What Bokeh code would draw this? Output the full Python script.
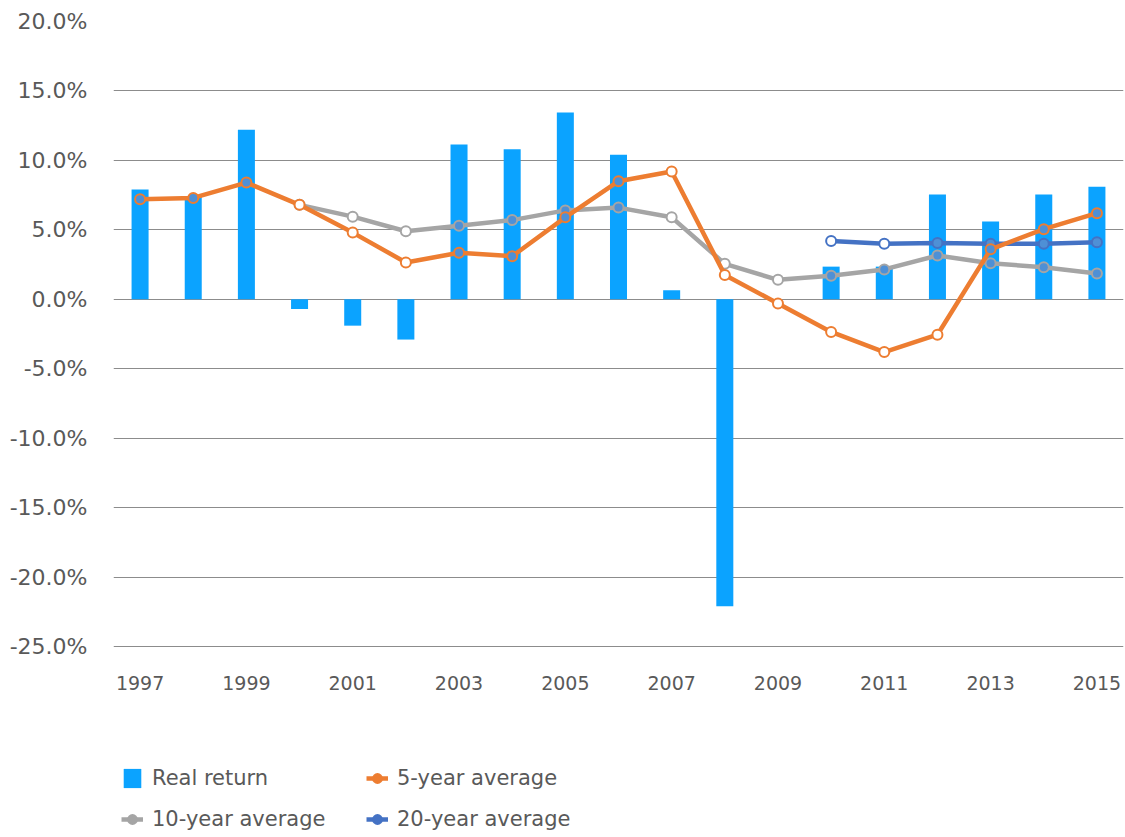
from bokeh.plotting import figure
from bokeh.models import (FixedTicker, PrintfTickFormatter, Legend, LegendItem,
                          ColumnDataSource, Range1d)
from bokeh.embed import file_html
from bokeh.resources import INLINE

years = list(range(1997, 2016))
real_return = [7.9, 7.4, 12.2, -0.7, -1.9, -2.9, 11.15, 10.8, 13.45, 10.4, 0.65,
               -22.1, 0.0, 2.35, 2.35, 7.55, 5.6, 7.55, 8.1]
avg5 = [7.2, 7.3, 8.4, 6.8, 4.8, 2.65, 3.35, 3.1, 5.9, 8.5, 9.2, 1.75, -0.3,
        -2.35, -3.8, -2.55, 3.6, 5.05, 6.2]
avg10_years = list(range(2000, 2016))
avg10 = [6.8, 5.95, 4.9, 5.3, 5.7, 6.4, 6.6, 5.9, 2.55, 1.4, 1.7, 2.15, 3.15,
         2.6, 2.3, 1.85]
avg20_years = list(range(2010, 2016))
avg20 = [4.2, 4.0, 4.05, 4.0, 4.0, 4.1]
y_ticks = [-25, -20, -15, -10, -5, 0, 5, 10, 15, 20]
x_ticks = [1997, 1999, 2001, 2003, 2005, 2007, 2009, 2011, 2013, 2015]

BAR = "#0ba3ff"
ORANGE = "#ed7d31"
GRAY = "#a5a5a5"
BLUE = "#4472c4"
TEXT = "#595959"
FONT = "DejaVu Sans"
ret_by_year = dict(zip(years, real_return))

Y_MIN, Y_MAX = -25, 20
# the frame reaches down to the canvas bottom so that the legend below the
# year labels stays inside it; the x axis itself sits at y = -25
Y_BOTTOM = Y_MIN - (836 - 646) * (Y_MAX - Y_MIN) / 625.0


def inner_fill(xs, ys):
    out = []
    for x, y in zip(xs, ys):
        b = ret_by_year.get(x, 0.0)
        inside = (b > 0 and 0 <= y <= b) or (b < 0 and b <= y <= 0)
        out.append("#4e90d6" if inside else "white")
    return out


p = figure(width=1124, height=836, output_backend="svg", toolbar_location=None,
           x_range=Range1d(1996.5, 2015.5), y_range=Range1d(Y_BOTTOM, Y_MAX),
           min_border_left=113, min_border_right=1, min_border_top=21,
           min_border_bottom=0)
p.outline_line_color = None
p.background_fill_color = "white"
p.border_fill_color = "white"

# axes
p.yaxis.ticker = FixedTicker(ticks=y_ticks)
p.yaxis.formatter = PrintfTickFormatter(format="%.1f%%")
p.xaxis.ticker = FixedTicker(ticks=x_ticks)
p.xaxis.formatter = PrintfTickFormatter(format="%d")
p.xaxis.fixed_location = Y_MIN
for ax in (p.xaxis, p.yaxis):
    ax.axis_line_color = None
    ax.major_tick_line_color = None
    ax.minor_tick_line_color = None
    ax.major_tick_out = 0
    ax.minor_tick_out = 0
    ax.major_label_text_font = FONT
    ax.major_label_text_color = TEXT
p.yaxis.major_label_text_font_size = "22px"
p.xaxis.major_label_text_font_size = "19px"
p.yaxis.major_label_standoff = 26
p.xaxis.major_label_standoff = 29
p.xgrid.grid_line_color = None
p.ygrid.ticker = FixedTicker(ticks=y_ticks)
p.ygrid.grid_line_color = "#8c8c8c"
p.ygrid.grid_line_width = 1

bars = p.vbar(x=years, top=real_return, bottom=0, width=0.32, fill_color=BAR,
              line_color=None)


def series(xs, ys, color):
    src = ColumnDataSource(dict(x=xs, y=ys, inner=inner_fill(xs, ys)))
    ln = p.line("x", "y", source=src, line_color=color, line_width=4.5)
    outer = p.scatter("x", "y", source=src, size=10, fill_color=color,
                      line_color=color, line_width=2)
    p.scatter("x", "y", source=src, size=8, fill_color="inner", line_color=None)
    return [ln, outer]


r10 = series(avg10_years, avg10, GRAY)
r20 = series(avg20_years, avg20, BLUE)
r5 = series(years, avg5, ORANGE)

# items are laid out column by column
legend = Legend(items=[
    LegendItem(label="Real return", renderers=[bars]),
    LegendItem(label="10-year average", renderers=r10),
    LegendItem(label="5-year average", renderers=r5),
    LegendItem(label="20-year average", renderers=r20),
], location=(8, 5), ncols=2)
legend.border_line_color = None
legend.background_fill_alpha = 0
legend.padding = 4
legend.margin = 0
legend.glyph_width = 22
legend.glyph_height = 24
legend.label_height = 24
legend.label_width = 197
legend.label_standoff = 9
legend.spacing = 17
legend.label_text_font = FONT
legend.label_text_font_size = "21px"
legend.label_text_color = TEXT
legend.label_text_baseline = "middle"
p.add_layout(legend, "center")

open("out.html", "w").write(file_html(p, INLINE))
